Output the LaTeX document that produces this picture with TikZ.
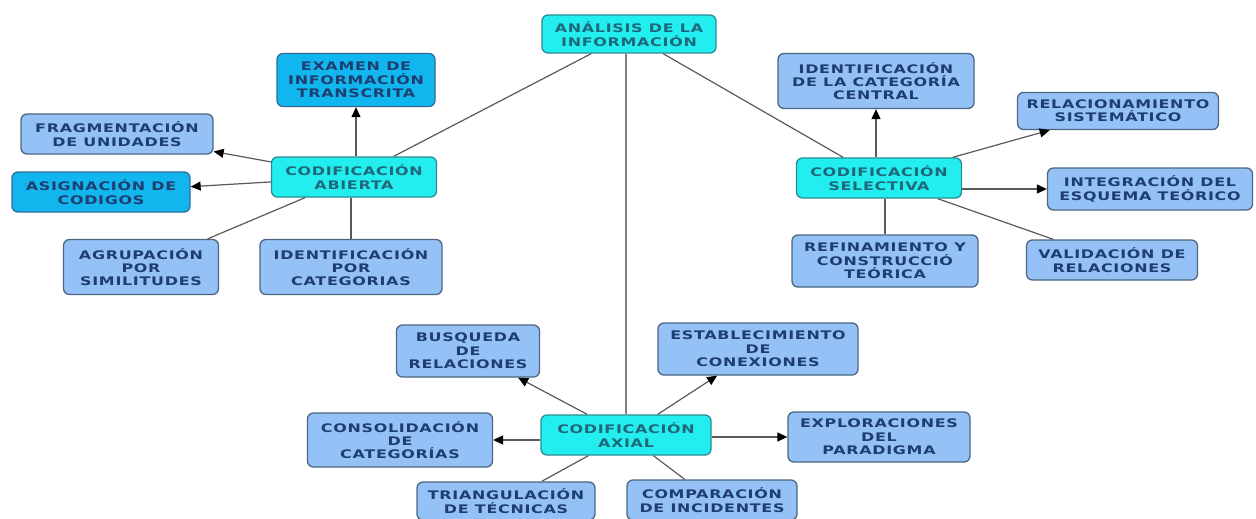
\documentclass[tikz,border=0pt]{standalone}
\usepackage{fontspec}
\usetikzlibrary{arrows.meta}
\newfontfamily\boxfont{DejaVu Sans Bold}[FakeStretch=1.35, LetterSpace=6]
\definecolor{cyanfill}{HTML}{22EEF0}
\definecolor{cyanline}{HTML}{2A8C94}
\definecolor{deepfill}{HTML}{12B6EE}
\definecolor{deepline}{HTML}{2E6C98}
\definecolor{lightfill}{HTML}{94C2F6}
\definecolor{lightline}{HTML}{4C6684}
\definecolor{navytext}{HTML}{1E3E70}
\definecolor{tealtext}{HTML}{1E6878}
\definecolor{edgegray}{HTML}{5A5A5A}
\tikzset{
  box/.style={rectangle, rounded corners=6pt, line width=1.3pt, inner sep=0pt, align=center,
    font=\boxfont\fontsize{11.8}{13.3}\selectfont},
  lightbox/.style={box, fill=lightfill, draw=lightline, text=navytext},
  deepbox/.style={box, fill=deepfill, draw=deepline, text=navytext},
  cyanbox/.style={box, fill=cyanfill, draw=cyanline, text=tealtext},
  link/.style={draw=edgegray, line width=1.2pt},
  arr/.style={link, -{Triangle[length=10pt,width=9pt,color=black]}},
}
\begin{document}
\begin{tikzpicture}[x=1pt,y=-1pt]
\useasboundingbox[fill=white] (0,0) rectangle (1256,519);
% main
\node[cyanbox, minimum width=174pt, minimum height=38pt] (ana) at (629,34) {ANÁLISIS DE LA\\INFORMACIÓN};
% abierta group
\node[cyanbox, minimum width=165pt, minimum height=40pt] (abi) at (354,177) {CODIFICACIÓN\\ABIERTA};
\node[deepbox, minimum width=158pt, minimum height=53pt] (exam) at (356,80) {EXAMEN DE\\INFORMACIÓN\\TRANSCRITA};
\node[lightbox, minimum width=192pt, minimum height=40pt] (frag) at (117,134) {FRAGMENTACIÓN\\DE UNIDADES};
\node[deepbox, minimum width=178pt, minimum height=40pt] (asig) at (101,192) {ASIGNACIÓN DE\\CODIGOS};
\node[lightbox, minimum width=155pt, minimum height=55pt] (agr) at (141,267) {AGRUPACIÓN\\POR\\SIMILITUDES};
\node[lightbox, minimum width=182pt, minimum height=55pt] (idc) at (351,267) {IDENTIFICACIÓN\\POR\\CATEGORIAS};
% selectiva group
\node[cyanbox, minimum width=165pt, minimum height=40pt] (sel) at (879,178) {CODIFICACIÓN\\SELECTIVA};
\node[lightbox, minimum width=196pt, minimum height=55pt] (cen) at (876,81) {IDENTIFICACIÓN\\DE LA CATEGORÍA\\CENTRAL};
\node[lightbox, minimum width=201pt, minimum height=37pt] (rel) at (1118,111) {RELACIONAMIENTO\\SISTEMÁTICO};
\node[lightbox, minimum width=205pt, minimum height=42pt] (int) at (1150,189) {INTEGRACIÓN DEL\\ESQUEMA TEÓRICO};
\node[lightbox, minimum width=186pt, minimum height=52pt] (ref) at (885,261) {REFINAMIENTO Y\\CONSTRUCCIÓ\\TEÓRICA};
\node[lightbox, minimum width=171pt, minimum height=40pt] (val) at (1112,260) {VALIDACIÓN DE\\RELACIONES};
% axial group
\node[cyanbox, minimum width=170pt, minimum height=40pt] (axi) at (626,435) {CODIFICACIÓN\\AXIAL};
\node[lightbox, minimum width=143pt, minimum height=52pt] (bus) at (468,351) {BUSQUEDA\\DE\\RELACIONES};
\node[lightbox, minimum width=200pt, minimum height=52pt] (est) at (758,349) {ESTABLECIMIENTO\\DE\\CONEXIONES};
\node[lightbox, minimum width=185pt, minimum height=54pt] (con) at (400,440) {CONSOLIDACIÓN\\DE\\CATEGORÍAS};
\node[lightbox, minimum width=182pt, minimum height=50pt] (exp) at (879,437) {EXPLORACIONES\\DEL\\PARADIGMA};
\node[lightbox, minimum width=178pt, minimum height=38pt] (tri) at (506,501) {TRIANGULACIÓN\\DE TÉCNICAS};
\node[lightbox, minimum width=170pt, minimum height=40pt] (cmp) at (712,500) {COMPARACIÓN\\DE INCIDENTES};
% links from main
\draw[link] (ana) -- (abi);
\draw[link, draw=gray, line width=1.8pt] (ana.south -| axi.north) -- (axi.north);
\draw[link] (ana) -- (sel);
% abierta
\draw[arr] (abi.north -| exam.south) -- (exam.south);
\draw[arr] (abi) -- (frag);
\draw[arr] (abi) -- (asig);
\draw[link] (abi) -- (agr);
\draw[link] (abi.south -| idc.north) -- (idc.north);
% selectiva
\draw[arr] (sel.north -| cen.south) -- (cen.south);
\draw[arr] (sel) -- (rel);
\draw[arr] (sel.east |- int.west) -- (int.west);
\draw[link] (sel.south -| ref.north) -- (ref.north);
\draw[link] (sel) -- (val);
% axial
\draw[arr] (axi) -- (bus);
\draw[arr] (axi) -- (est);
\draw[arr] (axi.west |- con.east) -- (con.east);
\draw[arr] (axi.east |- exp.west) -- (exp.west);
\draw[link] (axi) -- (tri);
\draw[link] (axi) -- (cmp);
\end{tikzpicture}
\end{document}
